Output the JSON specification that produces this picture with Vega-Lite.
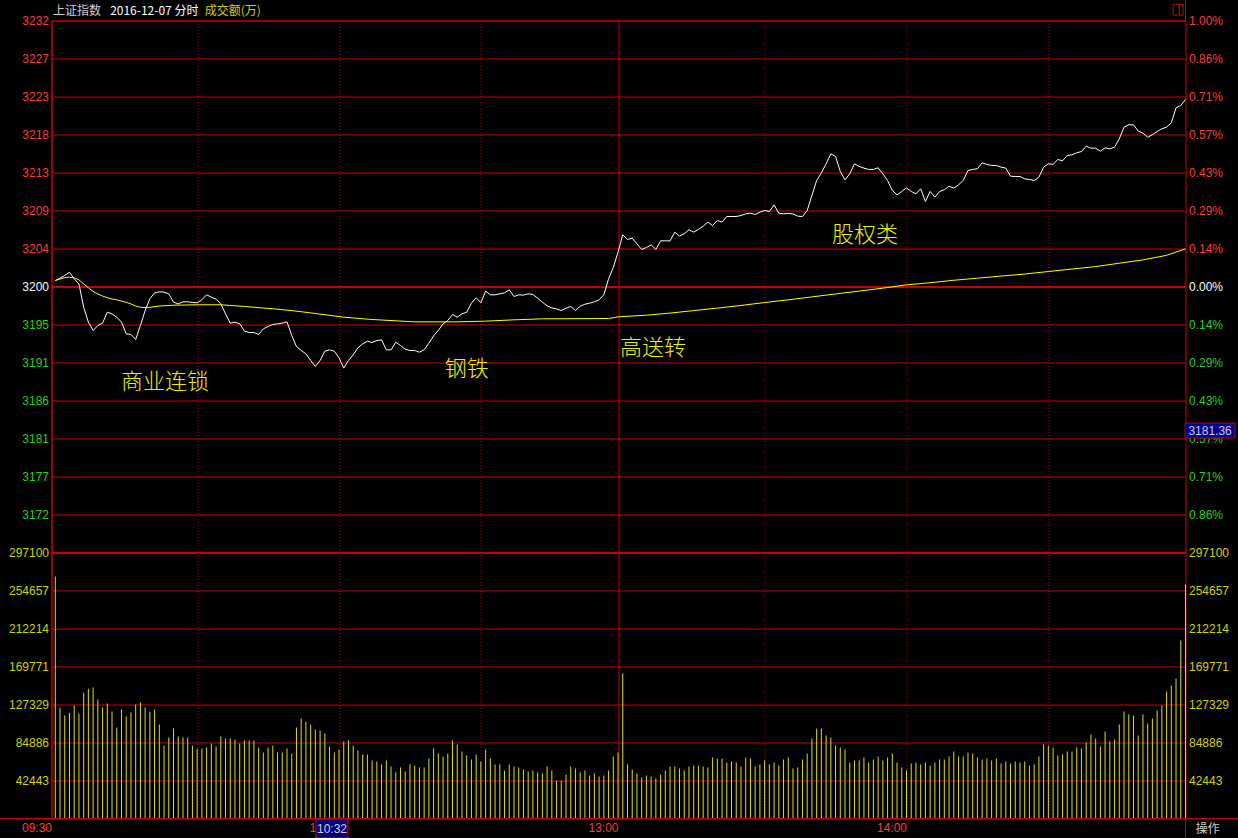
{
"$schema": "https://vega.github.io/schema/vega-lite/v6.json",
"width": 1134, "height": 798,
"autosize": {"type": "none"},
"padding": {"left": 51.5, "top": 20.5, "right": 52.5, "bottom": 19.5},
"background": "#000000",
"config": {"view": {"stroke": "#c80000", "strokeWidth": 1}, "axis": {"labelFont": "Liberation Sans", "labelFontSize": 12, "ticks": false, "domain": false}},
"datasets": {
"minutes": [
{"i":0,"p":3200.37,"v":270300},{"i":1,"p":3200.65,"v":124000},{"i":2,"p":3200.97,"v":115000},{"i":3,"p":3201.37,"v":118000},{"i":4,"p":3200.57,"v":126200},{"i":5,"p":3199.97,"v":117300},{"i":6,"p":3197.16,"v":140400},{"i":7,"p":3195.36,"v":144800},{"i":8,"p":3194.36,"v":146300},{"i":9,"p":3194.96,"v":132900},
{"i":10,"p":3195.24,"v":124000},{"i":11,"p":3196.56,"v":128400},{"i":12,"p":3196.36,"v":119500},{"i":13,"p":3195.96,"v":101600},{"i":14,"p":3195.36,"v":121700},{"i":15,"p":3193.96,"v":113900},{"i":16,"p":3193.88,"v":118400},{"i":17,"p":3193.28,"v":127300},{"i":18,"p":3194.96,"v":129600},{"i":19,"p":3196.76,"v":124000},
{"i":20,"p":3198.17,"v":119500},{"i":21,"p":3198.89,"v":121700},{"i":22,"p":3199.01,"v":105000},{"i":23,"p":3198.97,"v":81500},{"i":24,"p":3198.77,"v":90500},{"i":25,"p":3197.77,"v":100500},{"i":26,"p":3197.56,"v":91600},{"i":27,"p":3197.81,"v":90500},{"i":28,"p":3197.81,"v":90500},{"i":29,"p":3197.73,"v":81500},
{"i":30,"p":3197.69,"v":78200},{"i":31,"p":3198.05,"v":78200},{"i":32,"p":3198.65,"v":79300},{"i":33,"p":3198.37,"v":83800},{"i":34,"p":3198.13,"v":80400},{"i":35,"p":3197.56,"v":91600},{"i":36,"p":3196.36,"v":89400},{"i":37,"p":3195.24,"v":89400},{"i":38,"p":3195.36,"v":88200},{"i":39,"p":3195.16,"v":83800},
{"i":40,"p":3194.28,"v":87100},{"i":41,"p":3194.12,"v":87100},{"i":42,"p":3194.12,"v":87100},{"i":43,"p":3193.88,"v":79300},{"i":44,"p":3194.56,"v":73700},{"i":45,"p":3194.84,"v":79300},{"i":46,"p":3195.08,"v":81500},{"i":47,"p":3195.16,"v":73700},{"i":48,"p":3195.24,"v":73700},{"i":49,"p":3195.40,"v":78200},
{"i":50,"p":3193.76,"v":72600},{"i":51,"p":3192.43,"v":101600},{"i":52,"p":3191.95,"v":111700},{"i":53,"p":3191.55,"v":108300},{"i":54,"p":3190.75,"v":105000},{"i":55,"p":3190.03,"v":99400},{"i":56,"p":3190.75,"v":98300},{"i":57,"p":3191.87,"v":94900},{"i":58,"p":3192.03,"v":80400},{"i":59,"p":3191.87,"v":73700},
{"i":60,"p":3191.07,"v":77100},{"i":61,"p":3189.83,"v":86000},{"i":62,"p":3190.75,"v":87100},{"i":63,"p":3191.43,"v":81500},{"i":64,"p":3192.27,"v":75900},{"i":65,"p":3192.75,"v":71500},{"i":66,"p":3193.07,"v":71500},{"i":67,"p":3192.91,"v":64800},{"i":68,"p":3193.15,"v":63700},{"i":69,"p":3193.23,"v":60300},
{"i":70,"p":3192.03,"v":64800},{"i":71,"p":3192.03,"v":58100},{"i":72,"p":3192.95,"v":51400},{"i":73,"p":3192.55,"v":57000},{"i":74,"p":3192.11,"v":52500},{"i":75,"p":3191.95,"v":60300},{"i":76,"p":3191.95,"v":59200},{"i":77,"p":3191.75,"v":57000},{"i":78,"p":3192.03,"v":57000},{"i":79,"p":3192.83,"v":67000},
{"i":80,"p":3193.72,"v":78200},{"i":81,"p":3194.36,"v":72600},{"i":82,"p":3195.16,"v":69200},{"i":83,"p":3195.56,"v":72600},{"i":84,"p":3196.28,"v":87100},{"i":85,"p":3195.96,"v":82700},{"i":86,"p":3196.36,"v":74800},{"i":87,"p":3196.56,"v":70400},{"i":88,"p":3197.64,"v":65900},{"i":89,"p":3198.29,"v":71500},
{"i":90,"p":3197.69,"v":63700},{"i":91,"p":3199.09,"v":77100},{"i":92,"p":3198.65,"v":67000},{"i":93,"p":3198.65,"v":60300},{"i":94,"p":3198.77,"v":60300},{"i":95,"p":3198.89,"v":53600},{"i":96,"p":3199.25,"v":60300},{"i":97,"p":3198.45,"v":58100},{"i":98,"p":3198.65,"v":57000},{"i":99,"p":3198.61,"v":54700},
{"i":100,"p":3198.77,"v":52500},{"i":101,"p":3198.69,"v":53600},{"i":102,"p":3198.25,"v":51400},{"i":103,"p":3197.77,"v":50300},{"i":104,"p":3197.32,"v":58100},{"i":105,"p":3197.08,"v":53600},{"i":106,"p":3196.96,"v":42400},{"i":107,"p":3196.76,"v":42400},{"i":108,"p":3197.04,"v":49100},{"i":109,"p":3197.24,"v":58100},
{"i":110,"p":3196.76,"v":55800},{"i":111,"p":3197.28,"v":51400},{"i":112,"p":3197.52,"v":53600},{"i":113,"p":3197.64,"v":48000},{"i":114,"p":3197.81,"v":50300},{"i":115,"p":3198.05,"v":46900},{"i":116,"p":3198.65,"v":48000},{"i":117,"p":3200.57,"v":53600},{"i":118,"p":3201.95,"v":69200},{"i":119,"p":3203.78,"v":73700},
{"i":120,"p":3205.86,"v":162000},{"i":121,"p":3205.30,"v":60300},{"i":122,"p":3205.46,"v":54700},{"i":123,"p":3204.78,"v":50300},{"i":124,"p":3204.10,"v":45800},{"i":125,"p":3204.34,"v":48000},{"i":126,"p":3204.66,"v":46900},{"i":127,"p":3204.10,"v":44700},{"i":128,"p":3205.14,"v":49100},{"i":129,"p":3205.14,"v":53600},
{"i":130,"p":3205.14,"v":58100},{"i":131,"p":3206.19,"v":58100},{"i":132,"p":3205.71,"v":55800},{"i":133,"p":3205.99,"v":53600},{"i":134,"p":3206.47,"v":58100},{"i":135,"p":3206.19,"v":59200},{"i":136,"p":3206.51,"v":59200},{"i":137,"p":3206.91,"v":58100},{"i":138,"p":3207.39,"v":57000},{"i":139,"p":3206.99,"v":68100},
{"i":140,"p":3207.59,"v":67000},{"i":141,"p":3207.39,"v":67000},{"i":142,"p":3208.07,"v":62500},{"i":143,"p":3208.07,"v":63700},{"i":144,"p":3208.07,"v":62500},{"i":145,"p":3208.19,"v":58100},{"i":146,"p":3208.39,"v":68100},{"i":147,"p":3208.47,"v":67000},{"i":148,"p":3208.31,"v":58100},{"i":149,"p":3208.59,"v":60300},
{"i":150,"p":3208.79,"v":64800},{"i":151,"p":3208.67,"v":60300},{"i":152,"p":3209.47,"v":62500},{"i":153,"p":3208.47,"v":59200},{"i":154,"p":3208.39,"v":65900},{"i":155,"p":3208.43,"v":68100},{"i":156,"p":3208.39,"v":55800},{"i":157,"p":3208.11,"v":57000},{"i":158,"p":3208.07,"v":65900},{"i":159,"p":3208.79,"v":72600},
{"i":160,"p":3210.60,"v":89400},{"i":161,"p":3212.40,"v":100500},{"i":162,"p":3213.32,"v":100500},{"i":163,"p":3214.41,"v":92700},{"i":164,"p":3215.61,"v":90500},{"i":165,"p":3215.29,"v":81500},{"i":166,"p":3213.48,"v":79300},{"i":167,"p":3212.48,"v":77100},{"i":168,"p":3213.20,"v":62500},{"i":169,"p":3214.41,"v":64800},
{"i":170,"p":3214.09,"v":64800},{"i":171,"p":3213.89,"v":68100},{"i":172,"p":3213.73,"v":62500},{"i":173,"p":3213.73,"v":65900},{"i":174,"p":3213.93,"v":69200},{"i":175,"p":3213.20,"v":64800},{"i":176,"p":3212.40,"v":68100},{"i":177,"p":3211.20,"v":72600},{"i":178,"p":3210.68,"v":62500},{"i":179,"p":3211.08,"v":57000},
{"i":180,"p":3211.52,"v":53600},{"i":181,"p":3211.08,"v":61400},{"i":182,"p":3210.80,"v":62500},{"i":183,"p":3211.40,"v":60300},{"i":184,"p":3209.88,"v":62500},{"i":185,"p":3211.08,"v":59200},{"i":186,"p":3210.40,"v":62500},{"i":187,"p":3211.08,"v":65900},{"i":188,"p":3211.28,"v":65900},{"i":189,"p":3211.72,"v":69200},
{"i":190,"p":3211.48,"v":74800},{"i":191,"p":3211.88,"v":69200},{"i":192,"p":3212.40,"v":69200},{"i":193,"p":3213.60,"v":73700},{"i":194,"p":3213.73,"v":72600},{"i":195,"p":3213.81,"v":68100},{"i":196,"p":3214.53,"v":65900},{"i":197,"p":3214.33,"v":67000},{"i":198,"p":3214.21,"v":64800},{"i":199,"p":3214.21,"v":67000},
{"i":200,"p":3214.01,"v":61400},{"i":201,"p":3213.89,"v":63700},{"i":202,"p":3212.92,"v":61400},{"i":203,"p":3212.88,"v":63700},{"i":204,"p":3212.88,"v":62500},{"i":205,"p":3212.60,"v":63700},{"i":206,"p":3212.52,"v":59200},{"i":207,"p":3212.40,"v":60300},{"i":208,"p":3212.80,"v":69200},{"i":209,"p":3214.01,"v":82700},
{"i":210,"p":3214.41,"v":81500},{"i":211,"p":3214.33,"v":79300},{"i":212,"p":3214.93,"v":70400},{"i":213,"p":3214.77,"v":71500},{"i":214,"p":3215.41,"v":74800},{"i":215,"p":3215.49,"v":74800},{"i":216,"p":3215.73,"v":79300},{"i":217,"p":3215.89,"v":78200},{"i":218,"p":3216.53,"v":84900},{"i":219,"p":3216.29,"v":93800},
{"i":220,"p":3216.29,"v":89400},{"i":221,"p":3215.93,"v":80400},{"i":222,"p":3216.33,"v":97200},{"i":223,"p":3216.21,"v":86000},{"i":224,"p":3216.41,"v":88200},{"i":225,"p":3217.41,"v":105000},{"i":226,"p":3218.82,"v":119500},{"i":227,"p":3219.10,"v":116200},{"i":228,"p":3219.10,"v":115000},{"i":229,"p":3218.34,"v":92700},
{"i":230,"p":3218.10,"v":116200},{"i":231,"p":3217.61,"v":106100},{"i":232,"p":3217.90,"v":111700},{"i":233,"p":3218.30,"v":120600},{"i":234,"p":3218.62,"v":126200},{"i":235,"p":3218.82,"v":141800},{"i":236,"p":3219.34,"v":148500},{"i":237,"p":3221.14,"v":156400},{"i":238,"p":3221.42,"v":198800},{"i":239,"p":3222.15,"v":261300}
],
"avg": [
{"i":0,"a":3200.37},{"i":1,"a":3200.55},{"i":2,"a":3200.72},{"i":3,"a":3200.77},{"i":4,"a":3200.7},{"i":5,"a":3200.45},{"i":6,"a":3199.95},{"i":7,"a":3199.5},{"i":8,"a":3199.05},{"i":9,"a":3198.75},{"i":10,"a":3198.5},{"i":11,"a":3198.3},{"i":12,"a":3198.15},{"i":13,"a":3198.05},{"i":14,"a":3197.9},{"i":15,"a":3197.75},{"i":16,"a":3197.55},{"i":17,"a":3197.3},{"i":18,"a":3197.15},{"i":19,"a":3197.1},{"i":20,"a":3197.15},{"i":22,"a":3197.3},{"i":25,"a":3197.4},{"i":30,"a":3197.45},{"i":35,"a":3197.45},{"i":40,"a":3197.25},{"i":46,"a":3196.97},{"i":50,"a":3196.75},{"i":54,"a":3196.48},{"i":61,"a":3195.96},{"i":67,"a":3195.68},{"i":76,"a":3195.4},{"i":85,"a":3195.4},{"i":91,"a":3195.48},{"i":97,"a":3195.64},{"i":103,"a":3195.76},{"i":117,"a":3195.8},{"i":119,"a":3196.0},
{"i":125,"a":3196.2},{"i":130,"a":3196.45},{"i":135,"a":3196.75},{"i":140,"a":3197.05},{"i":145,"a":3197.37},{"i":150,"a":3197.72},{"i":155,"a":3198.05},{"i":160,"a":3198.4},{"i":165,"a":3198.75},{"i":170,"a":3199.1},{"i":175,"a":3199.45},{"i":180,"a":3199.85},{"i":185,"a":3200.1},{"i":190,"a":3200.4},{"i":195,"a":3200.65},{"i":200,"a":3200.9},{"i":205,"a":3201.15},{"i":210,"a":3201.45},{"i":215,"a":3201.75},{"i":220,"a":3202.05},{"i":225,"a":3202.45},{"i":230,"a":3202.85},{"i":235,"a":3203.4},{"i":239,"a":3204.18}
],
"notes": [
{"t":"商业连锁","i":23.2,"p":3188.22},{"t":"钢铁","i":87.0,"p":3189.67},{"t":"高送转","i":126.4,"p":3192.31},{"t":"股权类","i":171.2,"p":3205.9}
],
"header": [
{"t":"上证指数","i":-0.49,"part":"name"},{"t":"2016-12-07 分时","i":11.6,"part":"date"},{"t":"成交额(万)","i":31.6,"part":"unit"}
],
"cursor": [{"t":"10:32","i":62,"p":3181.36,"c":"3181.36"}],
"corner": [{"t":"操作"}],
"frame": [{"f":"edge"}]
},
"resolve": {"scale": {"y": "independent"}, "axis": {"y": "independent"}},
"layer": [
{"data": {"name": "minutes"},
 "mark": {"type": "rule", "color": "#e0e000", "strokeWidth": 1},
 "encoding": {
  "x": {"field": "i", "type": "quantitative", "title": null, "scale": {"domain": [-0.8, 239], "nice": false, "zero": false},
   "axis": {"orient": "bottom", "values": [-0.8, 30, 60, 90, 119, 150, 180, 210],
    "labelExpr": "datum.value < 0 ? '09:30' : datum.value == 60 ? '10:30' : datum.value == 119 ? '13:00' : datum.value == 180 ? '14:00' : ''",
    "labelAlign": "right", "labelColor": "#ff3a3a", "labelPadding": 4, "labelBound": false, "labelFlush": false, "labelOverlap": false,
    "grid": true, "gridColor": "#c80000", "gridWidth": 1,
    "gridDash": {"condition": {"test": "datum.value == 119 || datum.value < 0", "value": []}, "value": [1, 2]}}},
  "y": {"field": "v", "type": "quantitative", "title": null, "scale": {"domain": [0, 891300], "nice": false, "zero": false},
   "axis": {"orient": "left", "values": [42442.857, 84885.714, 127328.571, 169771.429, 212214.286, 254657.143, 297100], "format": ".0f",
    "labelColor": "#d2d200", "labelPadding": 3, "grid": true, "gridColor": "#c80000",
    "gridWidth": {"condition": {"test": "datum.value == 297100", "value": 2}, "value": 1}}},
  "y2": {"datum": 0}
 }},
{"data": {"name": "minutes"},
 "mark": {"type": "line", "color": "#ffffff", "strokeWidth": 1},
 "encoding": {
  "x": {"field": "i", "type": "quantitative", "title": null, "scale": {"domain": [-0.8, 239], "nice": false, "zero": false}},
  "y": {"field": "p", "type": "quantitative", "title": null, "scale": {"domain": [3135.657, 3231.6465], "nice": false, "zero": false},
   "axis": {"orient": "left", "values": [3172.2244, 3176.7954, 3181.3663, 3185.9372, 3190.5081, 3195.0791, 3199.65, 3204.2209, 3208.7919, 3213.3628, 3217.9337, 3222.5046, 3227.0756, 3231.6465],
    "format": ".0f", "labelPadding": 3,
    "labelColor": {"condition": [{"test": "datum.value > 3199.7", "value": "#ff3a3a"}, {"test": "datum.value < 3199.6", "value": "#1ed21e"}], "value": "#ffffff"},
    "grid": true, "gridColor": "#c80000",
    "gridWidth": {"condition": {"test": "abs(datum.value - 3199.65) < 0.01", "value": 2}, "value": 1}}}
 }},
{"data": {"name": "avg"},
 "mark": {"type": "line", "color": "#ffff00", "strokeWidth": 1},
 "encoding": {
  "x": {"field": "i", "type": "quantitative", "title": null, "scale": {"domain": [-0.8, 239], "nice": false, "zero": false}},
  "y": {"field": "a", "type": "quantitative", "title": null, "scale": {"domain": [3135.657, 3231.6465], "nice": false, "zero": false},
   "axis": {"orient": "right", "values": [3172.2244, 3176.7954, 3181.3663, 3185.9372, 3190.5081, 3195.0791, 3199.65, 3204.2209, 3208.7919, 3213.3628, 3217.9337, 3222.5046, 3227.0756, 3231.6465],
    "labelExpr": "format(abs(datum.value / 3199.65 - 1) * 100, '.2f') + '%'", "labelPadding": 3,
    "labelColor": {"condition": [{"test": "datum.value > 3199.7", "value": "#ff3a3a"}, {"test": "datum.value < 3199.6", "value": "#1ed21e"}], "value": "#ffffff"},
    "grid": false}}
 }},
{"data": {"name": "notes"},
 "mark": {"type": "text", "color": "#f0f000", "font": "Noto Sans CJK SC", "fontSize": 22, "fontWeight": 300, "align": "center", "baseline": "middle"},
 "encoding": {
  "x": {"field": "i", "type": "quantitative", "title": null, "scale": {"domain": [-0.8, 239], "nice": false, "zero": false}},
  "y": {"field": "p", "type": "quantitative", "scale": {"domain": [3135.657, 3231.6465], "nice": false, "zero": false}, "axis": null},
  "text": {"field": "t"}
 }},
{"data": {"name": "header"},
 "mark": {"type": "text", "font": "Noto Sans CJK SC", "fontSize": 12, "align": "left", "baseline": "middle"},
 "encoding": {
  "x": {"field": "i", "type": "quantitative", "title": null, "scale": {"domain": [-0.8, 239], "nice": false, "zero": false}},
  "y": {"datum": 3232.73, "type": "quantitative", "scale": {"domain": [3135.657, 3231.6465], "nice": false, "zero": false}, "axis": null},
  "color": {"field": "part", "type": "nominal", "scale": {"domain": ["name", "date", "unit"], "range": ["#d0d0d0", "#ffffff", "#d2d200"]}, "legend": null},
  "text": {"field": "t"}
 }},
{"data": {"name": "frame"},
 "mark": {"type": "rule", "color": "#c80000", "strokeWidth": 1},
 "encoding": {
  "x": {"datum": 239, "type": "quantitative", "scale": {"domain": [-0.8, 239], "nice": false, "zero": false}},
  "y": {"datum": 3231.6465, "type": "quantitative", "scale": {"domain": [3135.657, 3231.6465], "nice": false, "zero": false}, "axis": null},
  "y2": {"datum": 3234.2}
 }},
{"data": {"name": "frame"},
 "mark": {"type": "rule", "color": "#c80000", "strokeWidth": 1},
 "encoding": {
  "x": {"datum": 239, "type": "quantitative", "scale": {"domain": [-0.8, 239], "nice": false, "zero": false}},
  "y": {"datum": 0, "type": "quantitative", "scale": {"domain": [0, 891300], "nice": false, "zero": false}, "axis": null},
  "y2": {"datum": -22500}
 }},
{"data": {"name": "frame"},
 "mark": {"type": "rule", "color": "#c80000", "strokeWidth": 1},
 "encoding": {
  "x": {"datum": -11.7, "type": "quantitative", "scale": {"domain": [-0.8, 239], "nice": false, "zero": false}},
  "x2": {"datum": 250.2},
  "y": {"datum": 0, "type": "quantitative", "scale": {"domain": [0, 891300], "nice": false, "zero": false}, "axis": null}
 }},
{"data": {"name": "frame"},
 "mark": {"type": "rect", "fill": "transparent", "stroke": "#d00000", "strokeWidth": 1},
 "encoding": {
  "x": {"datum": 236.4, "type": "quantitative", "scale": {"domain": [-0.8, 239], "nice": false, "zero": false}},
  "x2": {"datum": 238.5},
  "y": {"datum": 3233.6, "type": "quantitative", "scale": {"domain": [3135.657, 3231.6465], "nice": false, "zero": false}, "axis": null},
  "y2": {"datum": 3232.3}
 }},
{"data": {"name": "frame"},
 "mark": {"type": "rule", "color": "#d00000", "strokeWidth": 1},
 "encoding": {
  "x": {"datum": 237.7, "type": "quantitative", "scale": {"domain": [-0.8, 239], "nice": false, "zero": false}},
  "y": {"datum": 3233.6, "type": "quantitative", "scale": {"domain": [3135.657, 3231.6465], "nice": false, "zero": false}, "axis": null},
  "y2": {"datum": 3232.3}
 }},
{"data": {"name": "cursor"},
 "mark": {"type": "rect", "fill": "#000080", "stroke": "#c80000", "strokeWidth": 1, "width": 32, "height": 19, "xOffset": -16.5, "yOffset": 10},
 "encoding": {
  "x": {"field": "i", "type": "quantitative", "title": null, "scale": {"domain": [-0.8, 239], "nice": false, "zero": false}},
  "y": {"datum": 0, "type": "quantitative", "scale": {"domain": [0, 891300], "nice": false, "zero": false},
   "axis": {"orient": "right", "title": null, "values": [42442.857, 84885.714, 127328.571, 169771.429, 212214.286, 254657.143, 297100], "format": ".0f", "labelColor": "#d2d200", "labelPadding": 3, "grid": false}}
 }},
{"data": {"name": "cursor"},
 "mark": {"type": "text", "color": "#d0d0d0", "font": "Liberation Sans", "fontSize": 12, "align": "center", "baseline": "middle", "dx": -16.5, "dy": 10},
 "encoding": {
  "x": {"field": "i", "type": "quantitative", "title": null, "scale": {"domain": [-0.8, 239], "nice": false, "zero": false}},
  "y": {"datum": 0, "type": "quantitative", "scale": {"domain": [0, 891300], "nice": false, "zero": false}, "axis": null},
  "text": {"field": "t"}
 }},
{"data": {"name": "cursor"},
 "mark": {"type": "rect", "fill": "#00008c", "stroke": "#c80000", "strokeWidth": 1, "width": 50, "height": 15, "yOffset": -8},
 "encoding": {
  "x": {"datum": 244.2, "type": "quantitative", "scale": {"domain": [-0.8, 239], "nice": false, "zero": false}},
  "y": {"field": "p", "type": "quantitative", "scale": {"domain": [3135.657, 3231.6465], "nice": false, "zero": false}, "axis": null}
 }},
{"data": {"name": "cursor"},
 "mark": {"type": "text", "color": "#c8c8f0", "font": "Liberation Sans", "fontSize": 12, "align": "center", "baseline": "middle", "dy": -8},
 "encoding": {
  "x": {"datum": 244.2, "type": "quantitative", "scale": {"domain": [-0.8, 239], "nice": false, "zero": false}},
  "y": {"field": "p", "type": "quantitative", "scale": {"domain": [3135.657, 3231.6465], "nice": false, "zero": false}, "axis": null},
  "text": {"field": "c"}
 }},
{"data": {"name": "corner"},
 "mark": {"type": "text", "color": "#d0d0d0", "font": "Noto Sans CJK SC", "fontSize": 12, "align": "center", "baseline": "middle", "dy": 10},
 "encoding": {
  "x": {"datum": 243.7, "type": "quantitative", "scale": {"domain": [-0.8, 239], "nice": false, "zero": false}},
  "y": {"datum": 0, "type": "quantitative", "scale": {"domain": [0, 891300], "nice": false, "zero": false}, "axis": null},
  "text": {"field": "t"}
 }}
]
}
